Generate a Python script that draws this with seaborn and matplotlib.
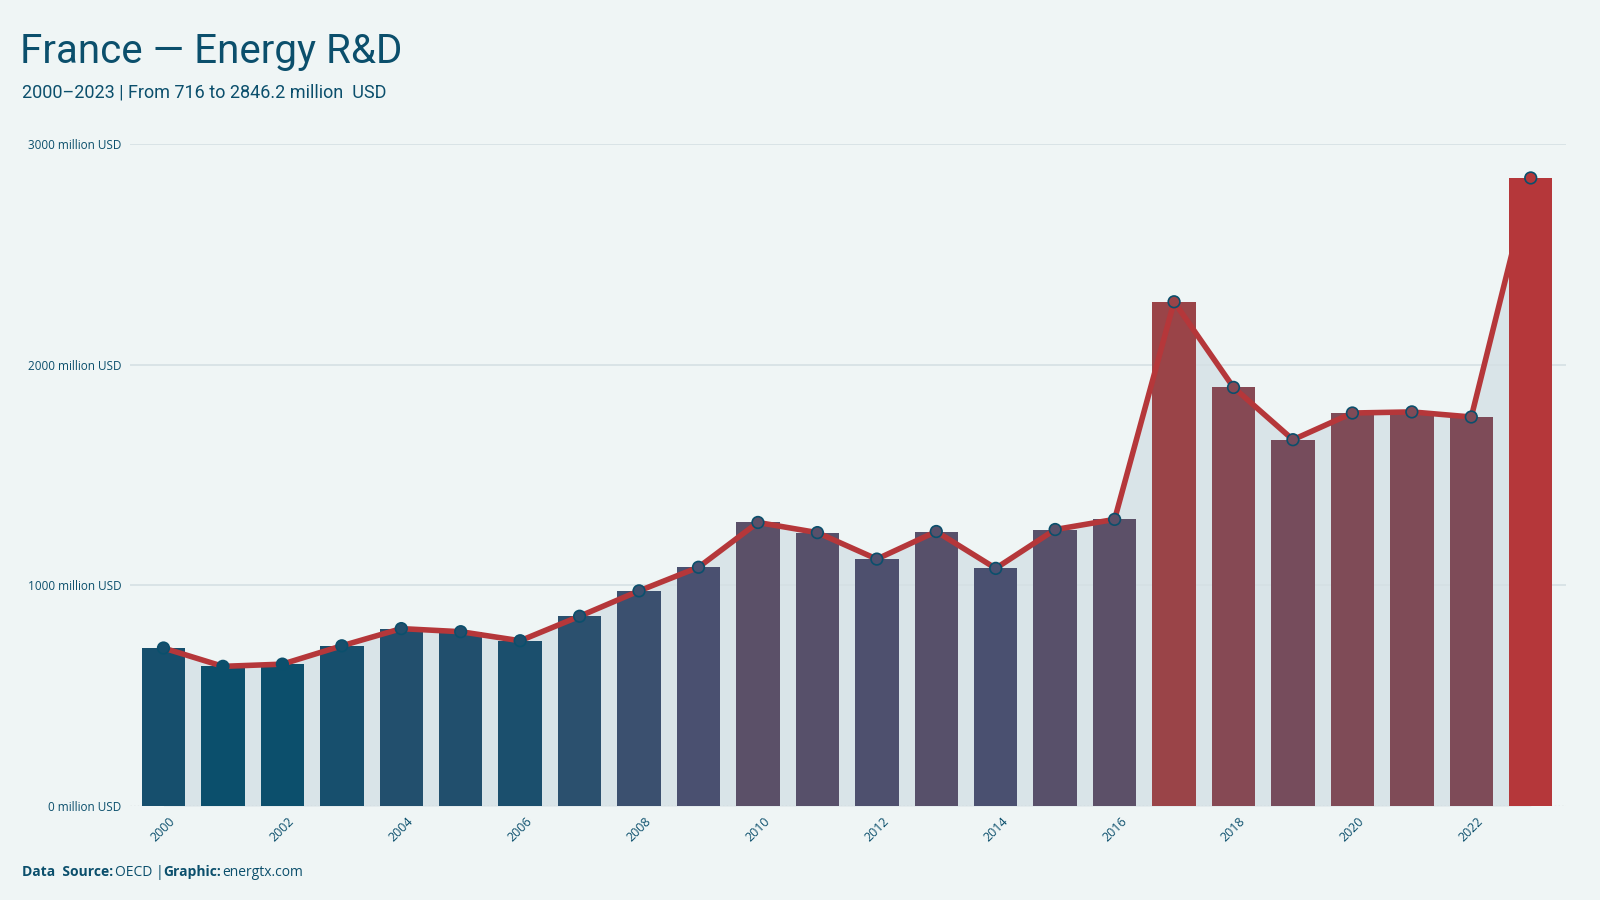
import numpy as np
import pandas as pd
import matplotlib.pyplot as plt
import seaborn as sns
from matplotlib.colors import LinearSegmentedColormap, Normalize

# Datos (millones USD)
years = list(range(2000, 2024))
values = [716, 633, 643, 726, 804, 790, 749, 860, 975, 1082,
          1285, 1239, 1119, 1244, 1077, 1253, 1299, 2285, 1897, 1660,
          1781, 1786, 1763, 2846.2]
tick_years = [2000, 2002, 2004, 2006, 2008, 2010, 2012, 2014, 2016, 2018, 2020, 2022]
y_ticks = [0, 1000, 2000, 3000]

df = pd.DataFrame({'year': [str(y) for y in years], 'value': values})

bg = '#eff5f5'
blue = '#0b4f6c'
red = '#b5373a'

cmap = LinearSegmentedColormap.from_list(
    'energy', [(0, blue), (0.2, '#4a5070'), (0.3, '#5c5068'), (0.55, '#844a55'),
               (0.75, '#9a4448'), (1, red)])
norm = Normalize(min(values), max(values))
colors = [cmap(norm(v)) for v in values]

sns.set_style('white')
plt.rcParams['font.family'] = ['Open Sans', 'DejaVu Sans']

fig = plt.figure(figsize=(16, 9), dpi=100, facecolor=bg)
ax = fig.add_axes([0.081, 0.1044, 0.898, 0.7356])
ax.set_facecolor(bg)

pos = np.arange(len(values))
ax.fill_between(pos, values, 0, color='#d9e4e8', zorder=0, lw=0)

sns.barplot(data=df, x='year', y='value', hue='year', palette=colors,
            legend=False, width=0.73, saturation=1, linewidth=0, ax=ax, zorder=2)

ax.plot(pos, values, color=red, lw=4, zorder=3, solid_joinstyle='round')
ax.scatter(pos, values, s=70, c=colors, edgecolors=blue, linewidths=1.2, zorder=4)

ax.set_ylim(0, 3000)
ax.set_xlim(-0.57, len(values) - 1 + 0.6)
ax.set_yticks(y_ticks)
ax.set_yticklabels([f'{t} million USD' for t in y_ticks], fontsize=8.5, color=blue)
for t in y_ticks[1:]:
    ax.axhline(t, color='#d5e0e4', lw=1.2, zorder=1)
ax.axhline(0, color='#c8cfd2', lw=1, ls=':', zorder=1)

ax.set_xticks([years.index(y) for y in tick_years])
ax.set_xticklabels([str(y) for y in tick_years], rotation=45, fontsize=9, color=blue,
                   ha='center', va='top')
ax.tick_params(axis='both', length=0, pad=6)
ax.set_xlabel('')
ax.set_ylabel('')
for s in ax.spines.values():
    s.set_visible(False)

fig.text(0.0125, 0.93, 'France — Energy R&D', fontsize=29, color=blue,
         family=['Roboto', 'DejaVu Sans'])
fig.text(0.0135, 0.897, '2000–2023 | From 716 to 2846.2 million  USD', fontsize=13,
         color=blue, family=['Roboto', 'DejaVu Sans'], va='center')
fig.text(0.0135, 0.027, 'Data  Source:', fontsize=10, color=blue, weight='bold')
fig.text(0.072, 0.027, 'OECD |', fontsize=10, color=blue)
fig.text(0.102, 0.027, 'Graphic:', fontsize=10, color=blue, weight='bold')
fig.text(0.139, 0.027, 'energtx.com', fontsize=10, color=blue)

fig.savefig('out.png', dpi=100, facecolor=bg)
